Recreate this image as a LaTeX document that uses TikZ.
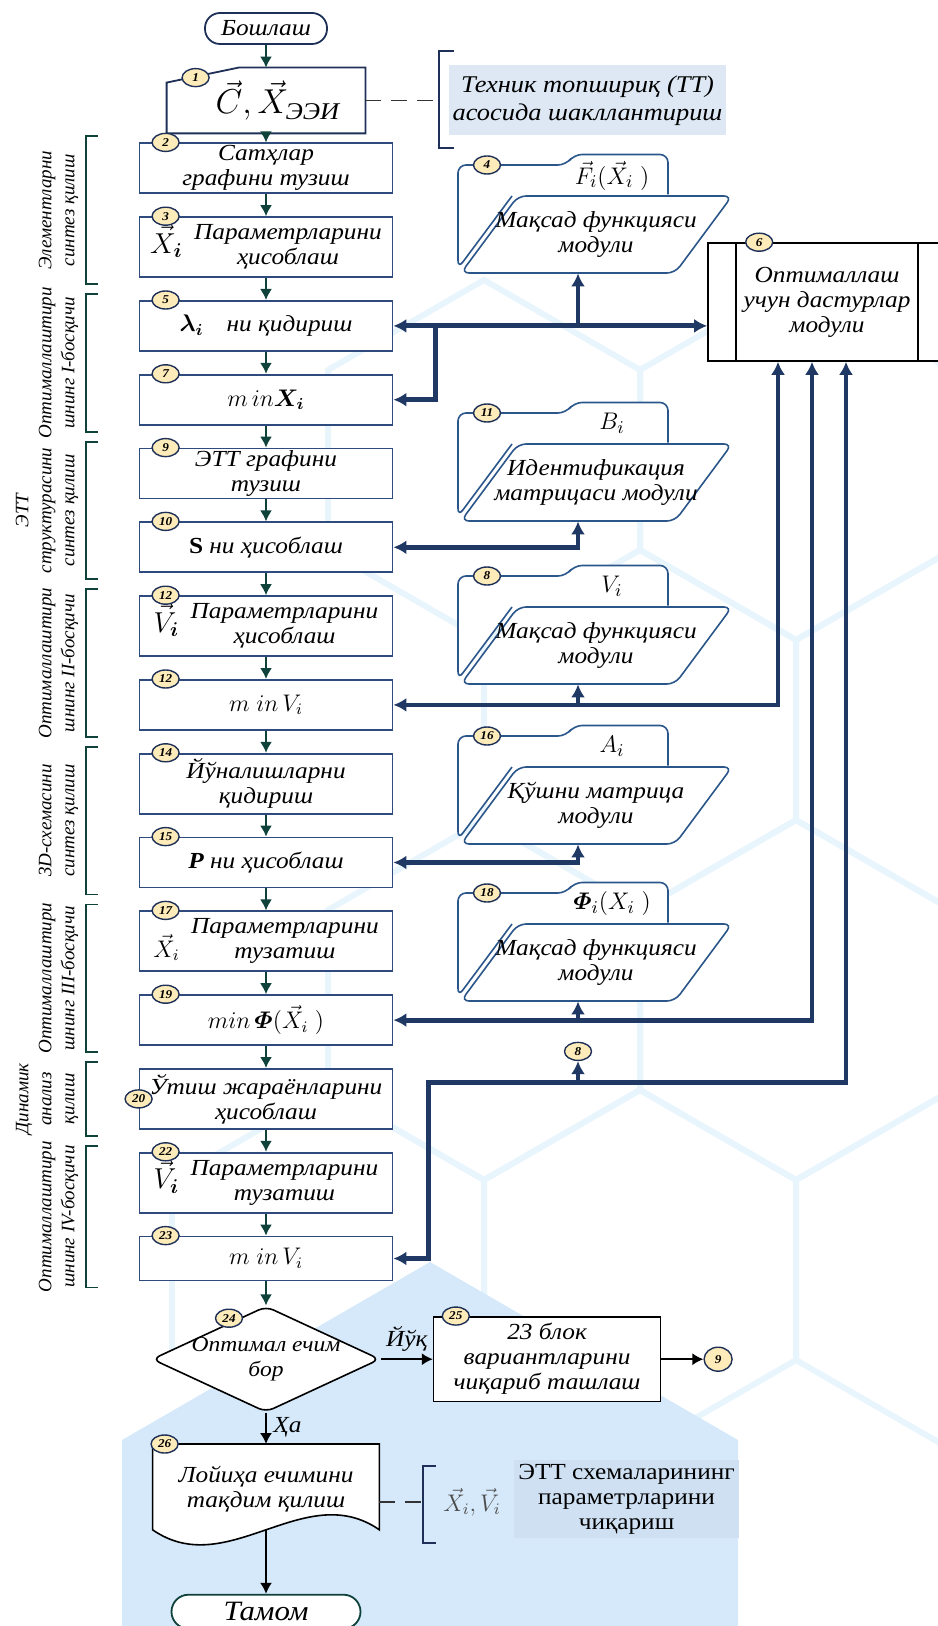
\documentclass[tikz,border=0pt]{standalone}
\usepackage{amsmath,amssymb}
\usepackage{fontspec}
\setmainfont{Liberation Serif}[FakeStretch=1.1]
\newfontfamily\plainserif{Liberation Serif}
\usepackage{tikz}
\usetikzlibrary{shapes.geometric,arrows.meta,positioning,calc,backgrounds}

\definecolor{boxblue}{RGB}{47,75,125}
\definecolor{busblue}{RGB}{31,56,100}
\definecolor{flowteal}{RGB}{14,66,58}
\definecolor{navyline}{RGB}{30,48,88}
\definecolor{modblue}{RGB}{42,86,138}
\definecolor{numfill}{RGB}{253,235,185}
\definecolor{notefill}{RGB}{221,232,244}
\definecolor{outfill}{RGB}{206,224,242}
\definecolor{bgblue}{RGB}{213,233,250}
\definecolor{hexline}{RGB}{233,245,253}

\begin{document}
\begin{tikzpicture}[
    x=0.5pt, y=-0.5pt,
    node distance=11pt,
    font=\fontsize{11.5}{12.5}\selectfont\itshape,
    proc/.style={rectangle, draw=boxblue, line width=0.9pt, fill=white, minimum width=126.5pt, minimum height=25pt, align=center, inner sep=0pt},
    tallproc/.style={proc, minimum height=30pt},
    num/.style={ellipse, draw=navyline, line width=0.7pt, fill=numfill, minimum width=13.5pt, minimum height=9pt, inner sep=0pt, font=\fontsize{6}{6}\selectfont\bfseries\itshape},
    flow/.style={draw=flowteal, line width=0.9pt, -{Latex[length=5.5pt,width=6pt]}},
    arr/.style={draw=black, line width=0.8pt, -{Latex[length=5.5pt,width=6pt]}},
    bus/.style={draw=busblue, line width=2.4pt, >={Latex[length=6.5pt,width=7pt]}},
    brk/.style={draw=flowteal, line width=0.9pt},
    nbrk/.style={draw=navyline, line width=0.9pt},
    dashln/.style={draw=black!80, line width=0.9pt, dash pattern=on 8pt off 5pt},
    modline/.style={draw=modblue, line width=0.8pt, rounded corners=4pt},
    modtext/.style={rectangle, minimum width=107pt, minimum height=38.5pt, inner sep=0pt, align=center},
    phase/.style={rotate=90, anchor=south, align=center, inner sep=1pt, font=\plainserif\fontsize{9.5}{11.5}\selectfont\itshape},
    term/.style={rectangle, rounded corners=7.5pt, draw=navyline, line width=0.9pt, fill=white, minimum width=61pt, minimum height=15.5pt, inner sep=1pt},
    note/.style={fill=notefill, align=center, inner sep=2pt},
    plain/.style={rectangle, draw=black, line width=0.8pt, fill=white, align=center},
    decision/.style={diamond, aspect=2.15, draw=black, line width=0.8pt, fill=white, minimum width=114pt, minimum height=53pt, inner sep=-4pt, align=center, rounded corners=4pt, font=\fontsize{10.7}{12.5}\selectfont\itshape},
]
\useasboundingbox (0,0) rectangle (937,1626);

% background hexagons
\begin{scope}[on background layer]
    \foreach \cx/\cy in {328/1270, 640/1270, 952/1270, 484/1000, 796/1000,
                         640/730, 952/730, 484/460, 796/460}
        \draw[hexline, line width=3pt] ({\cx+156},{\cy-90}) -- (\cx,{\cy-180}) -- ({\cx-156},{\cy-90})
            -- ({\cx-156},{\cy+90}) -- (\cx,{\cy+180}) -- ({\cx+156},{\cy+90}) -- cycle;
    \fill[bgblue] (122,1626) -- (122,1440) -- (430,1262) -- (738,1440) -- (738,1626) -- cycle;
\end{scope}

% main column
\node[term] (start) at (266,28.5) {Бошлаш};
\node[minimum width=99pt, minimum height=32.5pt, inner sep=0pt] (b1) at (266,100.5) {\hspace{12pt}\LARGE$\vec{C},\vec{X}_{\text{ЭЭИ}}$};
\draw[navyline, line width=0.9pt] (b1.south west) -- ([yshift=-7.5pt]b1.north west) -- ([xshift=36pt]b1.north west) -- (b1.north east) -- (b1.south east) -- cycle;

\node[proc, below=4.5pt of b1] (b2) {Сатҳлар\\графини тузиш};
\node[tallproc, below=of b2] (b3) {{\Large$\vec{X}_{\boldsymbol{i}}$}\enspace\begin{tabular}{@{}c@{}}Параметрларини\\ҳисоблаш\end{tabular}};
\node[proc, below=of b3] (b5) {{\large$\boldsymbol{\lambda_{i}}$}\quad ни қидириш};
\node[proc, below=of b5] (b7) {\large$m\,in\boldsymbol{X_{i}}$};
\node[proc, below=of b7] (b9) {ЭТТ графини\\тузиш};
\node[proc, below=of b9] (b10) {\textbf{\upshape S} ни ҳисоблаш};
\node[tallproc, below=of b10] (b12a) {{\Large$\vec{V}_{\boldsymbol{i}}$}\enspace\begin{tabular}{@{}c@{}}Параметрларини\\ҳисоблаш\end{tabular}};
\node[proc, below=of b12a] (b12b) {\large$m\;in\,V_{i}$};
\node[tallproc, below=of b12b] (b14) {Йўналишларни\\қидириш};
\node[proc, below=of b14] (b15) {\textbf{P} ни ҳисоблаш};
\node[tallproc, below=of b15] (b17) {{\large\raisebox{-5pt}{$\vec{X}_{i}$}}\enspace\begin{tabular}{@{}c@{}}Параметрларини\\тузатиш\end{tabular}};
\node[proc, below=of b17] (b19) {\large$min\,\boldsymbol{\varPhi}(\vec{X}_{i}\;)$};
\node[tallproc, below=of b19] (b20) {Ўтиш жараёнларини\\ҳисоблаш};
\node[tallproc, below=of b20] (b22) {{\Large$\vec{V}_{\boldsymbol{i}}$}\enspace\begin{tabular}{@{}c@{}}Параметрларини\\тузатиш\end{tabular}};
\node[proc, minimum height=22pt, below=of b22] (b23) {\large$m\;in\,V_{i}$};

\node[num] (n-b1) at ([xshift=14.5pt,yshift=-5pt]b1.north west) {1};
\foreach \bx/\nr in {b2/2, b3/3, b5/5, b7/7, b9/9, b10/10, b12a/12, b12b/12, b14/14, b15/15, b17/17, b19/19, b22/22, b23/23}
    \node[num] (n-\bx) at ([xshift=13.5pt]\bx.north west) {\nr};
\node[num] (n-b20) at (b20.west) {20};

% phases on the left
\foreach \tb/\bb/\ph/\txt in {b2/b3/ph1/{Элементларни\\синтез қилиш},
        b5/b7/ph2/{Оптималлаштири\\шнинг I-босқичи},
        b9/b10/ph3/{ЭТТ\\структурасини\\синтез қилиш},
        b12a/b12b/ph4/{Оптималлаштири\\шнинг II-босқичи},
        b14/b15/ph5/{3D-схемасини\\синтез қилиш},
        b17/b19/ph6/{Оптималлаштири\\шнинг III-босқичи},
        b20/b20/ph7/{Динамик\\анализ\\қилиш},
        b22/b23/ph8/{Оптималлаштири\\шнинг IV-босқичи}}
{
    \draw[brk] ([xshift=-20.5pt,yshift=3pt]\tb.north west) -- ++(-6pt,0) |- ([xshift=-20.5pt,yshift=-3pt]\bb.south west);
    \node[phase] (\ph) at ($(\tb.north west)!.5!(\bb.south west)+(-29pt,0)$) {\txt};
}

% technical task note
\node[note, minimum width=136.5pt, minimum height=35pt, font=\fontsize{12}{14}\selectfont\itshape] (tt) at (587.5,100.5) {Техник топшириқ (ТТ)\\асосида шакллантириш};
\draw[nbrk] ([xshift=3pt,yshift=7pt]tt.north west) -| ([xshift=-4.5pt]tt.west) |- ([xshift=3pt,yshift=-6pt]tt.south west);
\draw[dashln] (b1.east) -- ([xshift=-4.5pt]tt.west);

% modules on the right
\foreach \mn/\yc/\nr/\lab/\txt in {
        m4/234.5/4/{$\vec{F}_{i}(\vec{X}_{i}\;)$}/{Мақсад функцияси\\модули},
        m11/482.5/11/{$B_{i}$}/{Идентификация\\матрицаси модули},
        m8/645.5/8/{$V_{i}$}/{Мақсад функцияси\\модули},
        m16/805.5/16/{$A_{i}$}/{Қўшни матрица\\модули},
        m18/962.5/18/{$\boldsymbol{\varPhi}_{i}(X_{i}\;)$}/{Мақсад функцияси\\модули}}
{
    \draw[modline, fill=white] (512,{\yc-38.5}) -- (458,{\yc+34}) -- (458,{\yc-69.5}) -- (566,{\yc-69.5})
        -- (574,{\yc-80}) -- (668,{\yc-80}) -- (668,{\yc-40});
    \draw[modline, fill=white] (461,{\yc+38.5}) -- (518,{\yc-38.5}) -- (732,{\yc-38.5}) -- (675,{\yc+38.5}) -- cycle;
    \node[modtext] (\mn) at (596,\yc) {\txt};
    \coordinate (\mn-in) at ([xshift=-9pt]\mn.south);
    \node[num] (\mn-n) at (487,{\yc-69.5}) {\nr};
    \node[font=\fontsize{12.5}{12.5}\selectfont] (\mn-l) at (612,{\yc-59}) {\lab};
}

% program module
\node[draw=black, line width=0.8pt, fill=white, minimum width=119pt, minimum height=59pt, align=center, inner sep=0pt] (b6) at (827,302) {Оптималлаш\\учун дастурлар\\модули};
\draw[black, line width=0.8pt] ([xshift=14.5pt]b6.north west) -- ([xshift=14.5pt]b6.south west)
    ([xshift=-14.5pt]b6.north east) -- ([xshift=-14.5pt]b6.south east);
\node[num] (n-b6) at ([xshift=26pt]b6.north west) {6};
\coordinate (in1) at ([xshift=-24.5pt]b6.south);
\coordinate (in2) at ([xshift=-7.5pt]b6.south);
\coordinate (in3) at ([xshift=9.5pt]b6.south);

% decision and end part
\node[decision, below=12pt of b23] (dec) {Оптимал ечим\\бор};
\node[num] (n-dec) at ([xshift=-18.5pt,yshift=20.5pt]dec.center) {24};
\node[plain, minimum width=113.5pt, minimum height=41.5pt, right=26pt of dec] (b25) {23 блок\\вариантларини\\чиқариб ташлаш};
\node[num] (n-b25) at ([xshift=11.5pt]b25.north west) {25};
\node[num, minimum width=14pt, minimum height=12pt, right=21pt of b25] (n9) {9};

\node[minimum width=113pt, minimum height=45pt, inner sep=0pt, align=center, below=15.5pt of dec] (doc) {Лойиҳа ечимини\\тақдим қилиш};
\begin{scope}[on background layer]
    \draw[black, line width=0.8pt, fill=white] (doc.north west) -- (doc.north east) -- ([yshift=2.5pt]doc.south east)
        .. controls ([xshift=-37.5pt,yshift=28.5pt]doc.south east) and ([xshift=37.5pt,yshift=-23.5pt]doc.south west) .. ([yshift=2.5pt]doc.south west) -- cycle;
\end{scope}
\node[num] (n-doc) at ([xshift=6pt]doc.north west) {26};
\node[term, draw=flowteal, minimum width=94.5pt, minimum height=17pt, rounded corners=8.5pt, below=29.5pt of doc, font=\fontsize{14}{14}\selectfont\itshape] (end) {Тамом};

\node[note, fill=outfill, minimum width=111.5pt, minimum height=38pt, font=\fontsize{11.5}{12.5}\selectfont\upshape] (out) at (626.5,1499) {ЭТТ схемаларининг\\параметрларини\\чиқариш};
\node[inner sep=0pt, text=black!70] (vx) at (472,1502) {\large$\vec{X}_{i},\vec{V}_{i}$};
\draw[nbrk] ([xshift=-3.5pt,yshift=18pt]vx.west) -| ([xshift=-10pt]vx.west) |- ([xshift=-3.5pt,yshift=-20.5pt]vx.west);
\draw[dashln] (doc.east |- vx.west) -- ([xshift=-10pt]vx.west);

% flow arrows
\foreach \a/\b in {start/b1, b1/b2, b2/b3, b3/b5, b5/b7, b7/b9, b9/b10, b10/b12a, b12a/b12b,
                   b12b/b14, b14/b15, b15/b17, b17/b19, b19/b20, b20/b22, b22/b23, b23/dec}
    \draw[flow] (\a) -- (\b);
\draw[arr] (dec) -- node[above] {Йўқ} (b25);
\draw[arr] (b25) -- (n9);
\draw[arr] (dec) -- node[right, pos=.45] {Ҳа} (doc);
\draw[arr] ([yshift=2.5pt]doc.south) -- (end);

% data buses
\draw[bus,<->] (b5.east) -- (b5.east -| b6.west);
\draw[bus,->] (m4-in |- b5.east) -- (m4-in);
\draw[bus,->] ([xshift=21pt]b5.east) |- (b7.east);
\draw[bus,<->] (b10.east) -| (m11-in);
\draw[bus,<->] (b12b.east) -| (in1);
\draw[bus,->] (m8-in |- b12b.east) -- (m8-in);
\draw[bus,<->] (b15.east) -| (m16-in);
\draw[bus,<->] (b19.east) -| (in2);
\draw[bus,->] (m18-in |- b19.east) -- (m18-in);
\node[num] (c8) at ([yshift=-25pt]m18-in) {8};
\coordinate (lo) at ([yshift=-15.5pt]c8.center);
\coordinate (lo2) at ([xshift=17.5pt]b23.east);
\draw[bus,<->] (b23.east) -| (lo2 |- lo) -| (in3);
\draw[bus,->] (lo) -- (c8);
\end{tikzpicture}
\end{document}
